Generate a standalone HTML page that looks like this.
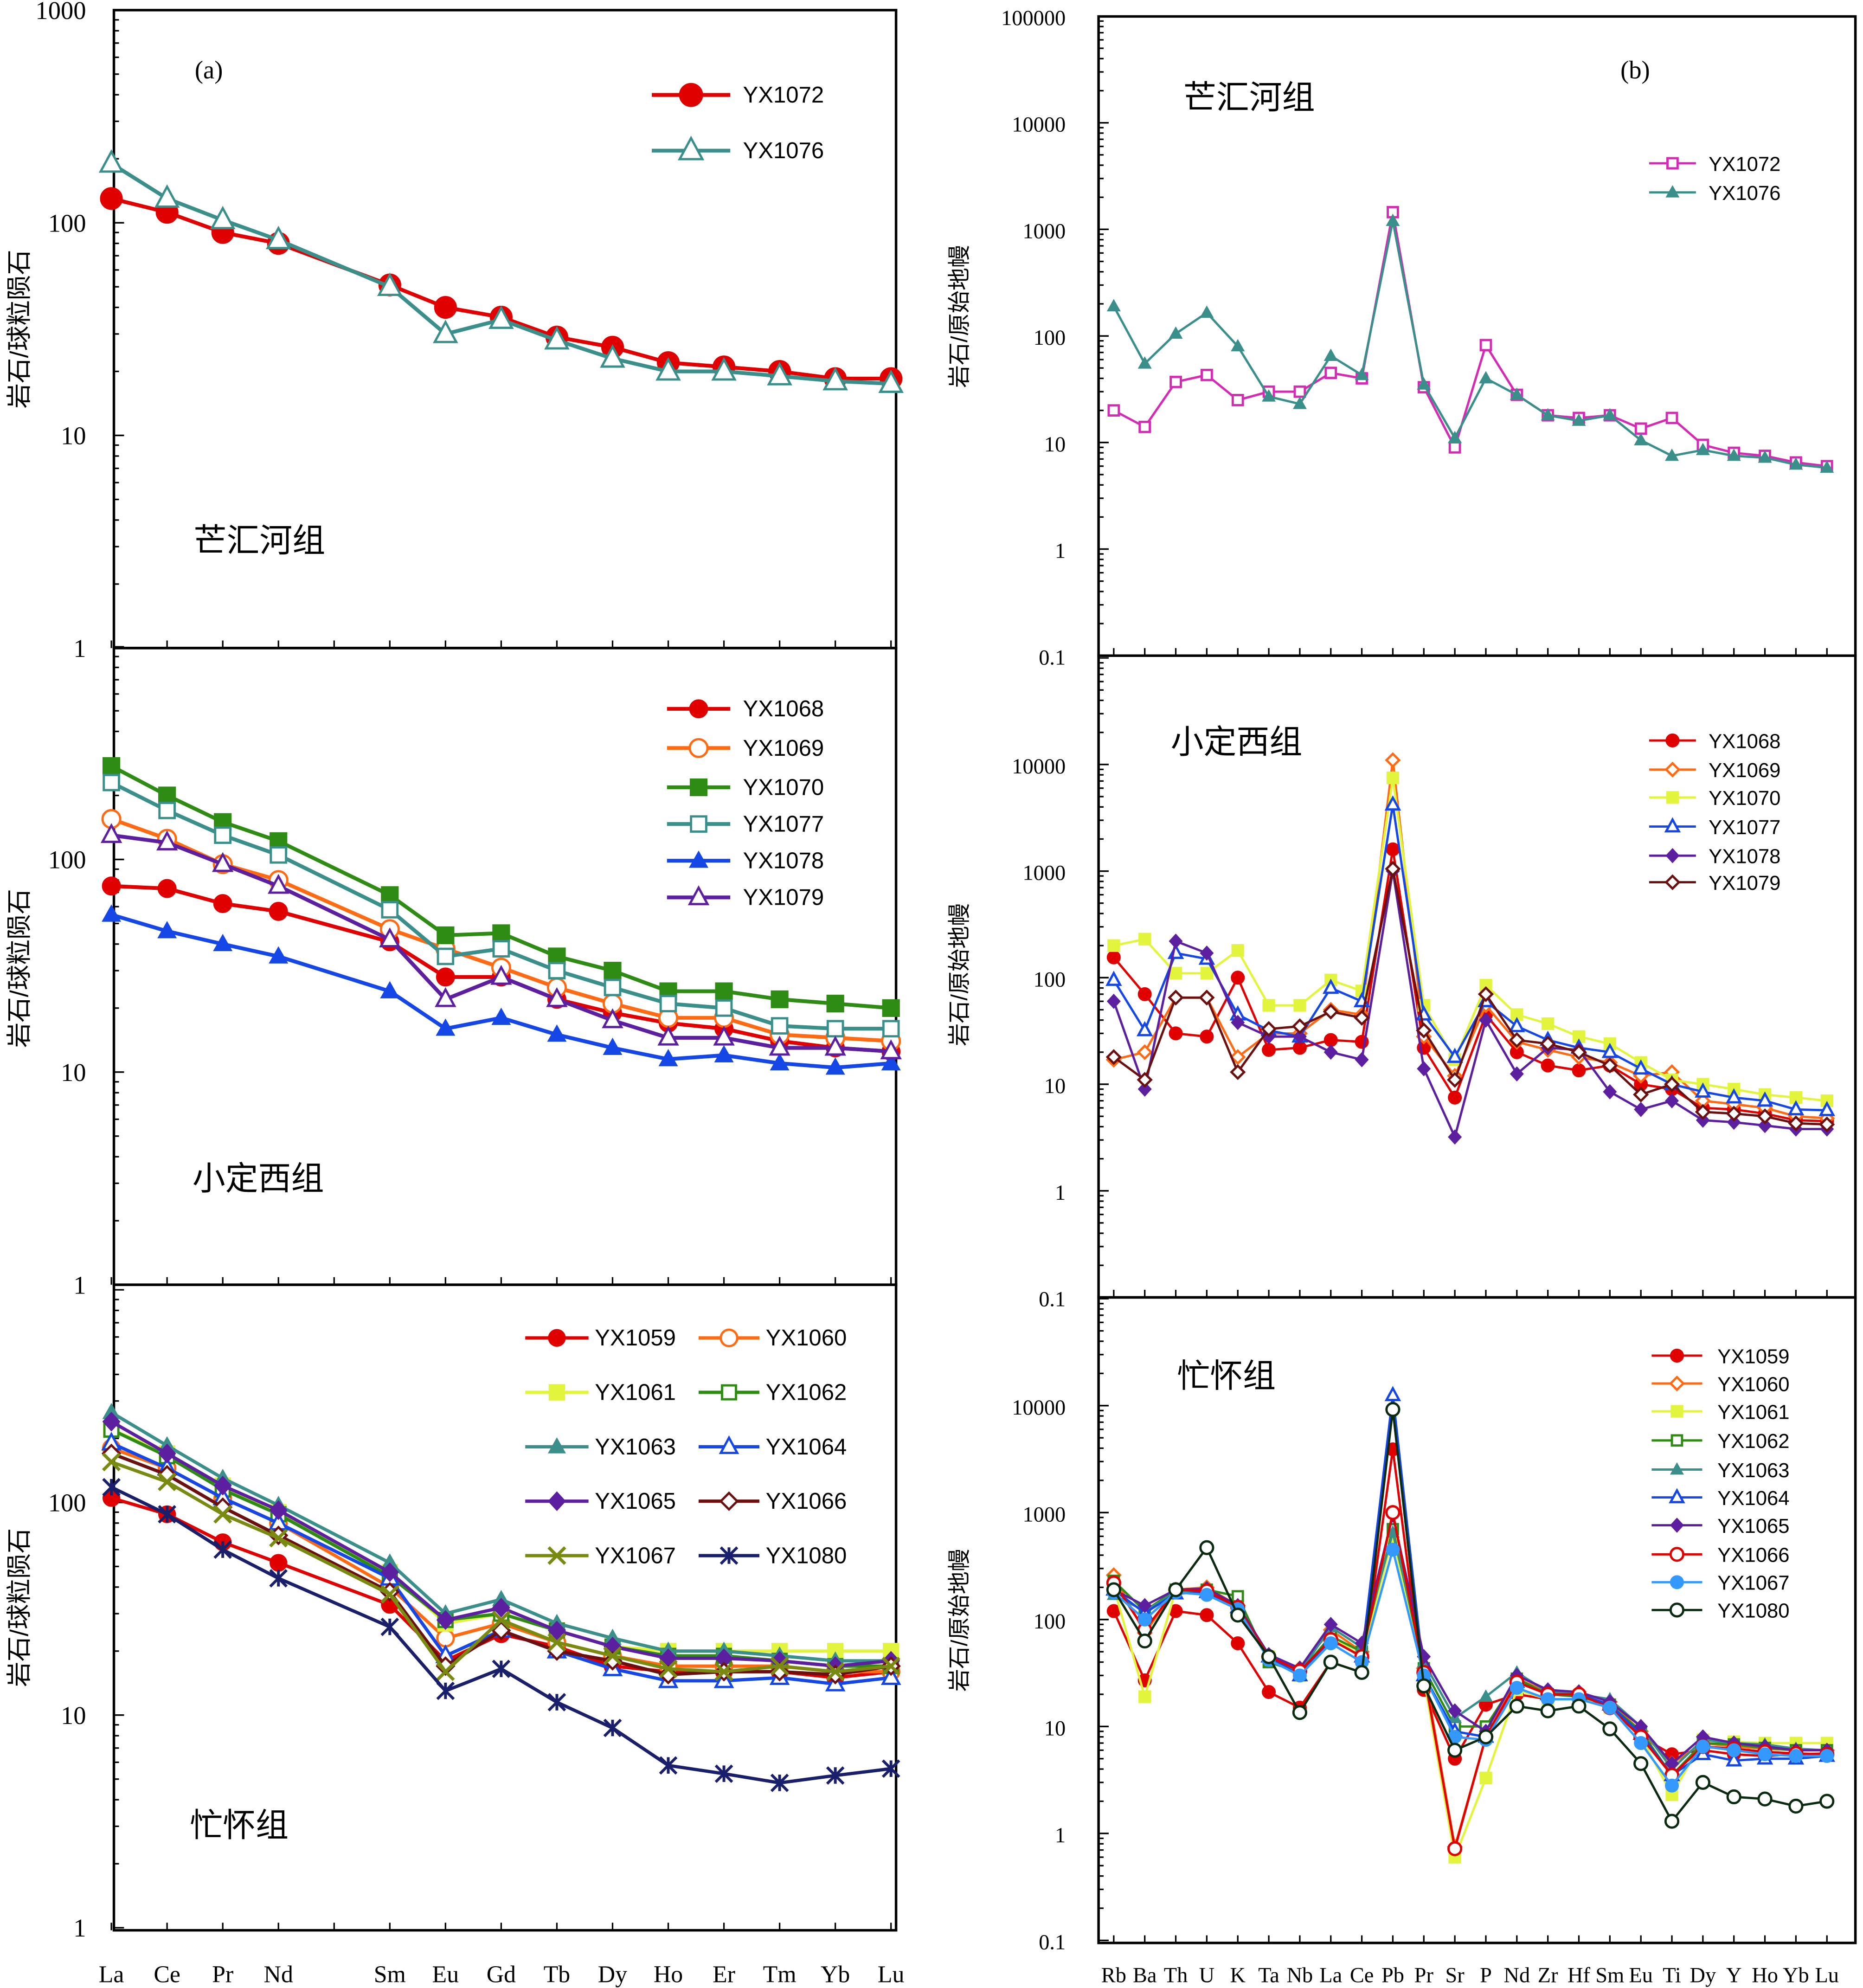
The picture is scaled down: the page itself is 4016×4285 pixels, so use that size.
<!DOCTYPE html>
<html><head><meta charset="utf-8"><style>
html,body{margin:0;padding:0;background:#fff}
svg{display:block}
text{font-family:"Liberation Serif","Noto Serif CJK SC",serif;fill:#000}
.cjk{font-family:"Liberation Sans","Noto Sans CJK SC",sans-serif}
</style></head><body>
<svg id="chart" width="4016" height="4285" viewBox="0 0 1472 1570.6" xmlns="http://www.w3.org/2000/svg"></svg>
<script>
// ---------- DATA ----------
const reeCats = ["La","Ce","Pr","Nd","Pm","Sm","Eu","Gd","Tb","Dy","Ho","Er","Tm","Yb","Lu"];
const reeUsed = ["La","Ce","Pr","Nd","Sm","Eu","Gd","Tb","Dy","Ho","Er","Tm","Yb","Lu"];
const traceCats = ["Rb","Ba","Th","U","K","Ta","Nb","La","Ce","Pb","Pr","Sr","P","Nd","Zr","Hf","Sm","Eu","Ti","Dy","Y","Ho","Yb","Lu"];
const leftTicks = ["1000","100","10","1"];
const rightTicks = ["100000","10000","1000","100","10","1","0.1"];

const a_YX1072 = [130,112,90,80,51,40,36,29,26,22,21,20,18.5,18.5];
const a_YX1076 = [190,130,103,83,50,30,35,28,23,20,20,19,18,17.5];

const c_YX1068 = [75,73,62,57,41,28,28,22,19,17,16,14,13,12.5];
const c_YX1069 = [155,125,95,80,47,38,31,25,21,18,18,15,14.5,14];
const c_YX1070 = [275,200,150,122,68,44,45,35,30,24,24,22,21,20];
const c_YX1077 = [230,170,130,105,58,35,38,30,25,21,20,16.5,16,16];
const c_YX1078 = [55,46,40,35,24,16,18,15,13,11.5,12,11,10.5,11];
const c_YX1079 = [130,120,95,75,42,22,28,22,17.5,14.5,14.5,13,13,12.5];

const e_YX1059 = [105,88,65,52,33,18,24,21,17,16,16,16,15,16];
const e_YX1060 = [180,145,105,80,40,23,27,22,19,17,17,17,16,16];
const e_YX1061 = [220,170,120,90,47,27,30,25,21,20,20,20,20,20];
const e_YX1062 = [220,165,115,88,45,28,30,25,21,19,19,18,17,17];
const e_YX1063 = [265,185,130,97,52,30,35,27,23,20,20,19,18,18];
const e_YX1064 = [190,145,105,80,44,19,25,20,16.5,14.5,14.5,15,14,15];
const e_YX1065 = [240,170,120,92,47,28,32,25,21,18.5,18.5,18,17,18];
const e_YX1066 = [170,135,95,70,38,17,25,20,18,15.5,16,16,15.5,17];
const e_YX1067 = [155,125,88,68,37,16,28,22,19,16.5,16,17,16,17];
const e_YX1080 = [118,88,60,44,26,13,16.5,11.5,8.7,5.8,5.3,4.8,5.2,5.6];

const b_YX1072 = [20,14,37,43,25,30,30,45,40,1450,33,9,82,28,18,17,18,13.5,17,9.5,8,7.5,6.5,6];
const b_YX1076 = [190,55,105,165,80,27,23,65,43,1200,35,11,40,28,18,16,18,10.5,7.5,8.5,7.5,7.2,6.2,5.8];

const d_YX1068 = [155,70,30,28,100,21,22,26,25,1600,22,7.5,45,20,15,13.5,15,10,9,6,5.8,5.3,4.6,4.5];
const d_YX1069 = [17,20,65,65,18,30,30,50,45,11000,28,12,55,25,21,18,16,12,13,7,6.5,6,5,4.8];
const d_YX1070 = [200,230,110,110,180,55,55,95,75,7500,55,17,85,45,37,28,24,16,11,10,9,8,7.5,7];
const d_YX1077 = [95,32,170,150,45,32,28,80,60,4200,45,18,60,35,26,22,20,14,10,8.5,7.5,7,5.8,5.7];
const d_YX1078 = [60,9,220,170,38,28,28,20,17,1000,14,3.2,40,12.5,22,21,8.5,5.8,7,4.6,4.4,4.1,3.8,3.8];
const d_YX1079 = [18,11,65,65,13,33,35,48,42,1050,32,11,70,26,24,20,15,8,10,5.5,5.3,5,4.3,4.2];

const f_YX1059 = [120,27,120,110,60,21,15,40,32,3900,22,5,16,20,18,18,15,8,5.5,6,5.5,5.3,5.5,5.6];
const f_YX1060 = [260,75,190,200,135,45,35,80,50,1000,35,0.75,8,28,21,21,17,9,4.5,7,6.5,6.2,6,6];
const f_YX1061 = [200,19,190,180,130,45,30,70,45,600,28,0.6,3.3,22,18,18,15,8,2.3,7.5,7.2,7,7,7];
const f_YX1062 = [230,120,190,190,165,40,32,70,50,700,35,10,10,28,20,19,16,9,3.5,7,6.8,6.3,6,6];
const f_YX1063 = [170,120,180,180,130,45,32,85,55,650,40,12,19,32,21,20,18,10,4,7.5,7,6.8,6.2,6];
const f_YX1064 = [190,115,175,180,130,45,30,65,45,12500,30,9,8,26,20,20,16,8.5,3.5,5.5,4.8,5,5,5.3];
const f_YX1065 = [190,135,190,195,135,47,35,90,60,950,45,14,9,30,22,21,17,10,4.5,8,7,6.5,6,6];
const f_YX1066 = [220,80,190,185,130,45,33,65,45,1000,32,0.72,8,26,20,20,15,8,3.5,6.5,6.2,5.8,5.6,5.5];
const f_YX1067 = [180,100,180,170,125,42,30,60,40,450,30,8,7.5,23,18,18,15,7,2.8,6.5,6,5.5,5.3,5.3];
const f_YX1080 = [190,63,190,470,110,45,13.5,40,32,9200,24,6,8,15.5,14,15.5,9.5,4.5,1.3,3,2.2,2.1,1.8,2.0];

// ---------- RENDER ----------
const NS="http://www.w3.org/2000/svg";
const svg=document.getElementById("chart");
function mk(tag,attrs,parent){const e=document.createElementNS(NS,tag);for(const k in attrs)e.setAttribute(k,attrs[k]);(parent||svg).appendChild(e);return e;}
function txt(s,x,y,size,anchor,parent,cls){const t=mk("text",{x:x,y:y,"font-size":size,"text-anchor":anchor||"start"},parent);if(cls)t.setAttribute("class",cls);t.textContent=s;return t;}

const C={red:"#e00000",orange:"#ff6a13",yellow:"#e2f53c",green:"#2e8b14",teal:"#3a8f8a",blue:"#1447e6",purple:"#5b1fa0",brown:"#6b0f0f",olive:"#7a8a10",navy:"#1a1f6b",magenta:"#d42bb5",lblue:"#3399ff",dgreen:"#0b2b10"};

function marker(g,type,x,y,col,r){
  const sw=1.8;
  if(type==="circle")return mk("circle",{cx:x,cy:y,r:r,fill:col,stroke:col},g);
  if(type==="ocircle")return mk("circle",{cx:x,cy:y,r:r,fill:"#fff",stroke:col,"stroke-width":sw},g);
  if(type==="square")return mk("rect",{x:x-r,y:y-r,width:2*r,height:2*r,fill:col},g);
  if(type==="osquare")return mk("rect",{x:x-r+1,y:y-r+1,width:2*r-2,height:2*r-2,fill:"#fff",stroke:col,"stroke-width":sw},g);
  if(type==="tri")return mk("polygon",{points:`${x},${y-r*1.15} ${x-r*1.1},${y+r*0.8} ${x+r*1.1},${y+r*0.8}`,fill:col},g);
  if(type==="otri")return mk("polygon",{points:`${x},${y-r*1.1} ${x-r},${y+r*0.75} ${x+r},${y+r*0.75}`,fill:"#fff",stroke:col,"stroke-width":sw},g);
  if(type==="diamond")return mk("polygon",{points:`${x},${y-r*1.2} ${x+r*1.1},${y} ${x},${y+r*1.2} ${x-r*1.1},${y}`,fill:col},g);
  if(type==="odiamond")return mk("polygon",{points:`${x},${y-r} ${x+r},${y} ${x},${y+r} ${x-r},${y}`,fill:"#fff",stroke:col,"stroke-width":sw},g);
  if(type==="x")return mk("path",{d:`M${x-r},${y-r}L${x+r},${y+r}M${x-r},${y+r}L${x+r},${y-r}`,stroke:col,"stroke-width":2.5},g);
  if(type==="star")return mk("path",{d:`M${x-r},${y-r}L${x+r},${y+r}M${x-r},${y+r}L${x+r},${y-r}M${x},${y-r}L${x},${y+r}`,stroke:col,"stroke-width":2.2},g);
}

function panel(cfg){
  const g=mk("g",{});
  
  
  const yOf=v=>cfg.yBottom-(Math.log10(v)-cfg.logMin)*cfg.perDec;
  const xOf=c=>cfg.x0+cfg.cats.indexOf(c)*cfg.dx;
  const box=mk("rect",{x:cfg.bx0,y:cfg.by0,width:cfg.bx1-cfg.bx0,height:cfg.by1-cfg.by0,fill:"none",stroke:"#000","stroke-width":2},g);
  
  
  for(let d=cfg.logMin;d<cfg.logMax;d++){
    for(let m=1;m<=10;m++){
      const y=yOf(m*Math.pow(10,d));
      const L=(m===1||m===10)?8:4;
      mk("line",{x1:cfg.bx0,x2:cfg.bx0+L,y1:y,y2:y,stroke:"#000","stroke-width":1.2},g);
    }
  }
  cfg.cats.forEach((c,i)=>{const x=cfg.x0+i*cfg.dx;mk("line",{x1:x,x2:x,y1:cfg.by1,y2:cfg.by1-6,stroke:"#000","stroke-width":1.2},g);});
  cfg.ticks.forEach(t=>{
    const v=parseFloat(t);
    if(v>Math.pow(10,cfg.logMax)*1.001||v<Math.pow(10,cfg.logMin)*0.999)return;
    if(cfg.skipTop&&Math.abs(Math.log10(v)-cfg.logMax)<0.01)return;
    const lab=txt(t,cfg.tickX,yOf(v)+7,cfg.tickSize,"end",g);
    
    
  });
  const yt=txt(cfg.ytitle,0,0,cfg.ytSize,"middle",g,"cjk");
  yt.setAttribute("transform",`translate(${cfg.ytX},${cfg.ytY}) rotate(-90)`);
  
  
  const gt=txt(cfg.title,cfg.titleX,cfg.titleY,26,"start",g,"cjk");
  
  
  if(cfg.letter){const lt=txt(cfg.letter,cfg.letterX,cfg.letterY,20,"middle",g);}
  cfg.series.forEach(s=>{
    const sg=mk("g",{},g);
    
    
    const pts=s.data.map((v,i)=>[xOf(cfg.used[i]),yOf(v)]);
    const ln=mk("polyline",{points:pts.map(p=>p.join(",")).join(" "),fill:"none",stroke:s.col,"stroke-width":cfg.lw},sg);
    
    
    pts.forEach(p=>{const m=marker(sg,s.mk,p[0],p[1],s.col,cfg.mr);});
  });
  cfg.series.forEach((s,i)=>{
    const L=cfg.legend(i);
    const lg=mk("g",{},g);
    
    
    mk("line",{x1:L.x1,x2:L.x2,y1:L.y,y2:L.y,stroke:s.col,"stroke-width":cfg.lw},lg);
    marker(lg,s.mk,(L.x1+L.x2)/2,L.y,s.col,cfg.legMr||cfg.mr);
    txt(s.label,L.tx,L.y+6,cfg.legSize,"start",lg,"cjk");
  });
  if(cfg.xlabels){
    cfg.used.forEach(c=>{const t=txt(c,xOf(c),cfg.xlabY,cfg.xlabSize,"middle",g);});
  }
}

const leftBase={cats:reeCats,used:reeUsed,x0:88,dx:44,bx0:90,bx1:708,logMin:0,logMax:3,perDec:168,ticks:leftTicks,tickX:68,tickSize:20,ytX:22,ytSize:20,ytitle:"岩石/球粒陨石",lw:3,mr:7,legSize:18};
const rightBase={cats:traceCats,used:traceCats,x0:880,dx:24.5,bx0:868,bx1:1466,logMin:-1,logMax:5,perDec:84.2,ticks:rightTicks,tickX:842,tickSize:17,ytX:764,ytSize:18,ytitle:"岩石/原始地幔",lw:1.8,mr:5,legSize:16};

panel(Object.assign({},leftBase,{name:"panel-a-manghuihe",by0:8,by1:512,yBottom:512,ytY:260,title:"芒汇河组",titleX:153,titleY:436,letter:"(a)",letterX:165,letterY:62,lw:3,mr:8.5,legMr:9,
  series:[{label:"YX1072",data:a_YX1072,col:C.red,mk:"circle"},{label:"YX1076",data:a_YX1076,col:C.teal,mk:"otri"}],
  legend:i=>({x1:515,x2:577,y:[75,119][i],tx:587})}));
panel(Object.assign({},leftBase,{name:"panel-xiaodingxi-ree",by0:512,by1:1015,yBottom:1015,ytY:765,title:"小定西组",titleX:152,titleY:940,mr:7,skipTop:true,
  series:[{label:"YX1068",data:c_YX1068,col:C.red,mk:"circle"},{label:"YX1069",data:c_YX1069,col:C.orange,mk:"ocircle"},{label:"YX1070",data:c_YX1070,col:C.green,mk:"square"},{label:"YX1077",data:c_YX1077,col:C.teal,mk:"osquare"},{label:"YX1078",data:c_YX1078,col:C.blue,mk:"tri"},{label:"YX1079",data:c_YX1079,col:C.purple,mk:"otri"}],
  legend:i=>({x1:527,x2:577,y:[560,591,622,651,680,709][i],tx:587})}));
panel(Object.assign({},leftBase,{name:"panel-manghuai-ree",by0:1015,by1:1525,yBottom:1523,ytY:1270,title:"忙怀组",titleX:150,titleY:1451,xlabels:true,xlabY:1566,xlabSize:19,lw:2.6,mr:6.5,skipTop:true,
  series:[{label:"YX1059",data:e_YX1059,col:C.red,mk:"circle"},{label:"YX1060",data:e_YX1060,col:C.orange,mk:"ocircle"},{label:"YX1061",data:e_YX1061,col:C.yellow,mk:"square"},{label:"YX1062",data:e_YX1062,col:C.green,mk:"osquare"},{label:"YX1063",data:e_YX1063,col:C.teal,mk:"tri"},{label:"YX1064",data:e_YX1064,col:C.blue,mk:"otri"},{label:"YX1065",data:e_YX1065,col:C.purple,mk:"diamond"},{label:"YX1066",data:e_YX1066,col:C.brown,mk:"odiamond"},{label:"YX1067",data:e_YX1067,col:C.olive,mk:"x"},{label:"YX1080",data:e_YX1080,col:C.navy,mk:"star"}],
  legend:i=>({x1:i%2?552:415,x2:i%2?600:465,y:[1057,1100,1143,1186,1229][Math.floor(i/2)],tx:i%2?605:470})}));

panel(Object.assign({},rightBase,{name:"panel-b-manghuihe-trace",by0:13,by1:518,yBottom:518,ytY:250,title:"芒汇河组",titleX:935,titleY:86,letter:"(b)",letterX:1292,letterY:62,
  series:[{label:"YX1072",data:b_YX1072,col:C.magenta,mk:"osquare"},{label:"YX1076",data:b_YX1076,col:C.teal,mk:"tri"}],
  legend:i=>({x1:1303,x2:1340,y:[129,152][i],tx:1350})}));
panel(Object.assign({},rightBase,{name:"panel-xiaodingxi-trace",by0:518,by1:1025,yBottom:1025,ytY:770,title:"小定西组",titleX:925,titleY:595,skipTop:true,
  series:[{label:"YX1068",data:d_YX1068,col:C.red,mk:"circle"},{label:"YX1069",data:d_YX1069,col:C.orange,mk:"odiamond"},{label:"YX1070",data:d_YX1070,col:C.yellow,mk:"square"},{label:"YX1077",data:d_YX1077,col:C.blue,mk:"otri"},{label:"YX1078",data:d_YX1078,col:C.purple,mk:"diamond"},{label:"YX1079",data:d_YX1079,col:C.brown,mk:"odiamond"}],
  legend:i=>({x1:1303,x2:1340,y:[585,608,630,653,676,697][i],tx:1350})}));
panel(Object.assign({},rightBase,{name:"panel-manghuai-trace",by0:1025,by1:1535,yBottom:1533,perDec:84.5,ytY:1280,title:"忙怀组",titleX:930,titleY:1096,skipTop:true,xlabels:true,xlabY:1566,xlabSize:17,
  series:[{label:"YX1059",data:f_YX1059,col:C.red,mk:"circle"},{label:"YX1060",data:f_YX1060,col:C.orange,mk:"odiamond"},{label:"YX1061",data:f_YX1061,col:C.yellow,mk:"square"},{label:"YX1062",data:f_YX1062,col:C.green,mk:"osquare"},{label:"YX1063",data:f_YX1063,col:C.teal,mk:"tri"},{label:"YX1064",data:f_YX1064,col:C.blue,mk:"otri"},{label:"YX1065",data:f_YX1065,col:C.purple,mk:"diamond"},{label:"YX1066",data:f_YX1066,col:C.red,mk:"ocircle"},{label:"YX1067",data:f_YX1067,col:C.lblue,mk:"circle"},{label:"YX1080",data:f_YX1080,col:C.dgreen,mk:"ocircle"}],
  legend:i=>({x1:1305,x2:1345,y:[1071,1093,1115,1138,1161,1183,1205,1228,1250,1272][i],tx:1357})}));
</script>
</body></html>
